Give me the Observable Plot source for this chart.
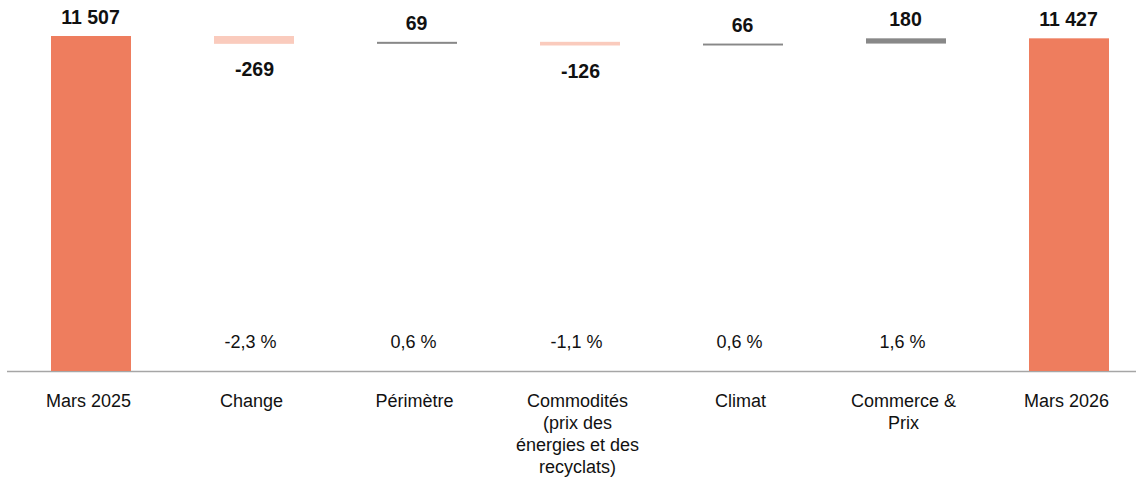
<!DOCTYPE html>
<html>
<head>
<meta charset="utf-8">
<script src="https://cdn.jsdelivr.net/npm/d3@7"></script>
<script src="https://cdn.jsdelivr.net/npm/@observablehq/plot@0.6"></script>
<style>
  html, body { margin: 0; padding: 0; background: #fff; }
  #chart svg { display: block; }
</style>
</head>
<body>
<div id="chart"></div>
<script>
// Bridge of sales, March 2025 to March 2026
const categories = [
  "Mars 2025",
  "Change",
  "Périmètre",
  "Commodités\n(prix des\nénergies et des\nrecyclats)",
  "Climat",
  "Commerce &\nPrix",
  "Mars 2026"
];
const values = [11507, -269, 69, -126, 66, 180, 11427];
const kinds = ["total", "delta", "delta", "delta", "delta", "delta", "total"];
const percentLabels = ["", "-2,3 %", "0,6 %", "-1,1 %", "0,6 %", "1,6 %", ""];

const fr = d3.formatLocale({decimal: ",", thousands: " ", grouping: [3], currency: ["", " €"]});
const fmt = fr.format(",d");

// Running totals for the waterfall steps
let running = 0;
const rows = categories.map((cat, i) => {
  const v = values[i];
  let y1, y2;
  if (kinds[i] === "total") {
    y1 = 0; y2 = v; running = v;
  } else {
    y1 = running; y2 = running + v; running = y2;
  }
  return {
    cat, value: v, kind: kinds[i], y1, y2,
    top: Math.max(y1, y2), bottom: Math.min(y1, y2),
    label: fmt(v).replace("−", "-"),
    pct: percentLabels[i]
  };
});

const fill = d => d.kind === "total" ? "#EE7D5E" : (d.value < 0 ? "#FACBBD" : "#888888");
const font = "'Liberation Sans', Arial, Helvetica, sans-serif";

const chart = Plot.plot({
  width: 1136,
  height: 479,
  marginTop: 36,
  marginBottom: 108,
  marginLeft: 25,
  marginRight: 2,
  style: {fontFamily: font, background: "#fff"},
  x: {type: "band", domain: categories, paddingInner: 0.51, paddingOuter: 0.153, axis: null},
  y: {domain: [0, values[0]], axis: null},
  marks: [
    Plot.ruleY([0], {stroke: "#a6a6a6", strokeWidth: 1.5, insetLeft: -18, insetRight: -2}),
    Plot.barY(rows, {x: "cat", y1: "y1", y2: "y2", fill}),
    // values above totals and increases
    Plot.text(rows.filter(d => d.value >= 0), {
      x: "cat", y: "top", text: "label", lineAnchor: "bottom", dy: -12.5, dx: -1,
      fontSize: 19.5, fontWeight: "bold", fill: "#111"
    }),
    // values below decreases
    Plot.text(rows.filter(d => d.value < 0), {
      x: "cat", y: "bottom", text: "label", lineAnchor: "bottom", dy: 32,
      fontSize: 19.5, fontWeight: "bold", fill: "#111"
    }),
    // growth rates
    Plot.text(rows.filter(d => d.pct), {
      x: "cat", y: 0, text: "pct", lineAnchor: "bottom", dy: -23.5, dx: -4,
      fontSize: 18, fill: "#111"
    }),
    // category labels under the baseline
    Plot.text(rows, {
      x: "cat", y: 0, text: "cat", lineAnchor: "top", dy: 19.5, dx: -3, lineHeight: 1.23,
      fontSize: 18, fill: "#111"
    })
  ]
});

document.getElementById("chart").append(chart);
</script>
</body>
</html>
